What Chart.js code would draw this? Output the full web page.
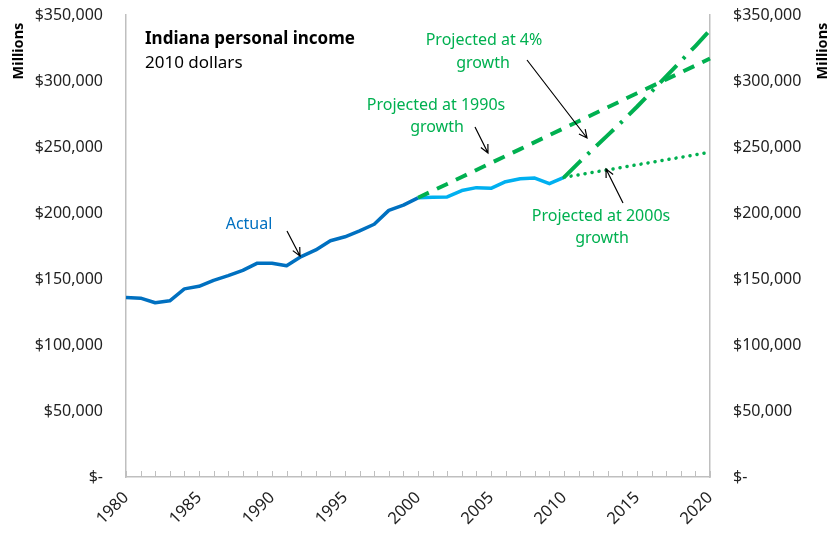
<!DOCTYPE html>
<html>
<head>
<meta charset="utf-8">
<script src="https://cdn.jsdelivr.net/npm/chart.js@4.4.1/dist/chart.umd.min.js"></script>
<style>
  html, body { margin: 0; padding: 0; background: #fff; }
  #wrap { width: 837px; height: 537px; }
</style>
</head>
<body>
<div id="wrap"><canvas id="incomeChart" width="837" height="537"></canvas></div>
<script>
// years on the x axis
const years = [];
for (let y = 1980; y <= 2020; y++) years.push(String(y));

// actual income, millions of 2010 dollars
const actualEarly = [136000, 135500, 132000, 133500, 142500, 144500, 149000, 152500, 156500, 162000,
                     162000, 160000, 167000, 172000, 179000, 182000, 186500, 191500, 202000, 206000, 211500];
const actualLate = [211500, 212000, 212200, 217000, 219200, 218700, 223700, 226000, 226500, 222200, 227000];

// projections
const proj1990s = [211500, 216800, 222000, 227300, 232600, 237900, 243200, 248400, 253700, 259000,
                   264300, 269500, 274800, 280100, 285400, 290700, 295900, 301200, 306500, 311700, 317000];
const proj2000s = [227000, 228900, 230800, 232700, 234600, 236500, 238400, 240300, 242200, 244100, 246000];
const proj4pct = [227000, 238000, 248500, 259000, 269500, 280500, 292000, 303500, 315000, 326500, 338500];

const yTicks = [0, 50000, 100000, 150000, 200000, 250000, 300000, 350000];

// pad a series out to the full year range
function place(values, startYear) {
    const out = new Array(years.length).fill(null);
    const start = startYear - 1980;
    values.forEach((v, i) => { out[start + i] = v; });
    return out;
}

const FONT = '"Noto Sans", "Liberation Sans", sans-serif';
const GREEN = '#00B050';
const AXIS = '#BFBFBF';

function money(v) {
    return v === 0 ? '$-' : '$' + v.toLocaleString('en-US');
}

function drawArrow(ctx, x1, y1, x2, y2) {
    const a = Math.atan2(y2 - y1, x2 - x1);
    const h = 9;
    ctx.beginPath();
    ctx.moveTo(x1, y1);
    ctx.lineTo(x2, y2);
    ctx.moveTo(x2 - h * Math.cos(a - 0.45), y2 - h * Math.sin(a - 0.45));
    ctx.lineTo(x2, y2);
    ctx.lineTo(x2 - h * Math.cos(a + 0.45), y2 - h * Math.sin(a + 0.45));
    ctx.stroke();
}

// text, arrows and the small inward tick marks on the year axis
const notes = {
    id: 'notes',
    afterDraw(chart) {
        const ctx = chart.ctx;
        const xs = chart.scales.x;
        const area = chart.chartArea;
        ctx.save();

        ctx.strokeStyle = AXIS;
        ctx.lineWidth = 1;
        ctx.beginPath();
        years.forEach((y, i) => {
            const px = Math.round(xs.getPixelForValue(i)) + 0.5;
            ctx.moveTo(px, area.bottom);
            ctx.lineTo(px, area.bottom - 6);
        });
        ctx.stroke();

        ctx.fillStyle = '#000';
        ctx.textBaseline = 'middle';
        ctx.textAlign = 'left';
        ctx.font = 'bold 17px ' + FONT;
        ctx.fillText('Indiana personal income', 145, 39);
        ctx.font = '17px ' + FONT;
        ctx.fillText('2010 dollars', 145, 63);

        ctx.font = 'bold 14.5px ' + FONT;
        ctx.textAlign = 'center';
        [[19, 51], [823, 51]].forEach(p => {
            ctx.save();
            ctx.translate(p[0], p[1]);
            ctx.rotate(-Math.PI / 2);
            ctx.fillText('Millions', 0, 0);
            ctx.restore();
        });

        ctx.font = '16px ' + FONT;
        ctx.fillStyle = '#0070C0';
        ctx.fillText('Actual', 249, 224);
        ctx.fillStyle = GREEN;
        ctx.fillText('Projected at 4%', 484, 40);
        ctx.fillText('growth', 483, 63);
        ctx.fillText('Projected at 1990s', 436, 105);
        ctx.fillText('growth', 437, 127);
        ctx.fillText('Projected at 2000s', 601, 216);
        ctx.fillText('growth', 602, 238);

        ctx.strokeStyle = '#000';
        ctx.lineWidth = 1.2;
        drawArrow(ctx, 287, 231, 300, 256);
        drawArrow(ctx, 527, 60, 587, 138);
        drawArrow(ctx, 475, 127, 488, 153);
        drawArrow(ctx, 623, 203, 606, 169);

        ctx.restore();
    }
};

const yAxis = (pos) => ({
    type: 'linear',
    position: pos,
    min: 0,
    max: 350000,
    afterBuildTicks(scale) { scale.ticks = yTicks.map(v => ({ value: v })); },
    afterFit(scale) {
        scale.width = pos === 'left' ? 126 : 127;
        scale.paddingTop = 15;
        scale.paddingBottom = 0;
    },
    grid: { display: false, drawTicks: false },
    border: { display: true, color: AXIS, width: 1.5 },
    ticks: {
        padding: 23,
        color: '#222',
        font: { family: FONT, size: 16 },
        callback: money
    }
});

new Chart(document.getElementById('incomeChart'), {
    type: 'line',
    data: {
        labels: years,
        datasets: [
            { data: place(proj1990s, 2000), borderColor: GREEN, borderWidth: 4, borderDash: [12, 9] },
            { data: place(proj2000s, 2010), borderColor: GREEN, borderWidth: 3.5, borderDash: [0.1, 7], borderCapStyle: 'round' },
            { data: place(actualLate, 2000), borderColor: '#00B0F0', borderWidth: 3.5 },
            { data: place(proj4pct, 2010), borderColor: GREEN, borderWidth: 4, borderDash: [24, 9, 3, 9] },
            { data: place(actualEarly, 1980), borderColor: '#0070C0', borderWidth: 3.5 }
        ]
    },
    options: {
        responsive: false,
        animation: false,
        layout: { padding: 0 },
        elements: { point: { radius: 0 }, line: { tension: 0, borderJoinStyle: 'round' } },
        plugins: { legend: { display: false }, tooltip: { enabled: false } },
        scales: {
            x: {
                type: 'category',
                offset: false,
                afterFit(scale) {
                    scale.height = 60;
                    scale.paddingLeft = 0;
                    scale.paddingRight = 0;
                },
                grid: { display: false, drawTicks: false },
                border: { display: true, color: AXIS, width: 1.5 },
                ticks: {
                    autoSkip: false,
                    maxRotation: 45,
                    minRotation: 45,
                    padding: 11,
                    color: '#222',
                    font: { family: FONT, size: 16.5 },
                    callback(value) {
                        const label = this.getLabelForValue(value);
                        return Number(label) % 5 === 0 ? label : '';
                    }
                }
            },
            y: yAxis('left'),
            y2: yAxis('right')
        }
    },
    plugins: [notes]
});
</script>
</body>
</html>
